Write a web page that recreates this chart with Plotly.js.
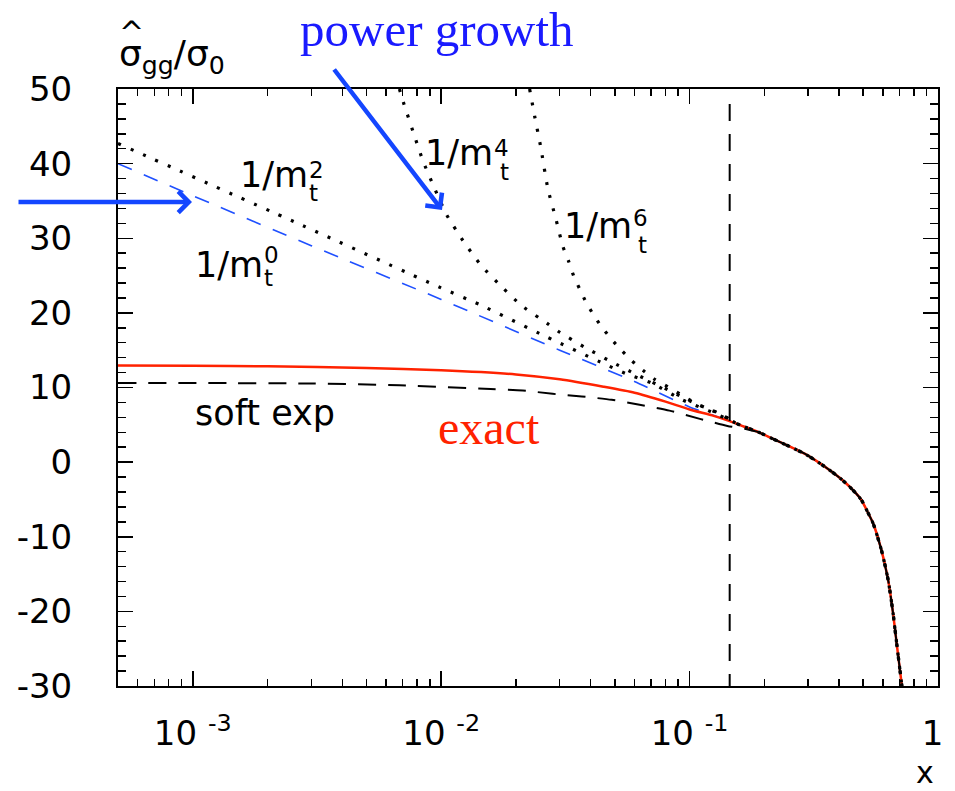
<!DOCTYPE html>
<html><head><meta charset="utf-8">
<script src="https://cdn.plot.ly/plotly-3.0.1.min.js"></script>
<style>html,body{margin:0;padding:0;background:#fff;} #chart{width:955px;height:791px;}</style>
</head><body><div id="chart"></div>
<script>
// ---- data ----
// common tail (all expansions converge onto the exact curve for x > ~0.15)
const tailX = [0.19, 0.217, 0.26, 0.295, 0.35, 0.402, 0.441, 0.49, 0.523, 0.548, 0.592, 0.63, 0.659, 0.684, 0.713, 0.72];
const tailY = [4.0, 3.1, 1.9, 1.0, -0.6, -2.1, -3.3, -5.0, -6.8, -8.2, -11.8, -15.8, -20.2, -24.7, -29.6, -31];

const exactX = [5e-4, 1e-3, 2e-3, 5e-3, 1e-2, 0.02, 0.03, 0.045, 0.06, 0.08, 0.1, 0.125, 0.145, 0.16];
const exactY = [12.95, 12.9, 12.85, 12.6, 12.3, 11.75, 11.1, 10.1, 9.3, 8.1, 7.05, 6.2, 5.5, 4.95];

const softX = [5e-4, 2.7e-3, 6.8e-3, 0.0158, 0.0213, 0.0281, 0.0368, 0.0486, 0.0629, 0.083, 0.11, 0.142, 0.17];
const softY = [10.6, 10.55, 10.3, 9.8, 9.6, 9.15, 8.8, 8.35, 7.7, 6.9, 5.8, 4.85, 4.4];

const m0X = [5e-4, 1e-3, 3e-3, 0.01, 0.03, 0.06, 0.1, 0.145, 0.16];
const m0Y = [40.0, 35.7, 29.0, 21.8, 15.0, 10.8, 7.4, 5.5, 4.95];

const m2X = [5e-4, 2.77e-3, 9.76e-3, 0.0143, 0.0265, 0.0438, 0.056, 0.0702, 0.0927, 0.119, 0.149, 0.16];
const m2Y = [42.7, 31.7, 23.5, 21.1, 16.8, 13.4, 11.8, 10.6, 8.4, 6.9, 5.45, 4.95];

const m4X = [6.79e-3, 7.08e-3, 7.72e-3, 8.44e-3, 9.43e-3, 0.01054, 0.01223, 0.01445, 0.0174, 0.0212, 0.0267, 0.030, 0.0378, 0.0481, 0.0614, 0.0816, 0.1048, 0.1324, 0.16];
const m4Y = [50.0, 48.0, 44.2, 40.4, 36.6, 33.1, 29.7, 26.4, 23.6, 20.9, 18.6, 17.4, 15.4, 13.5, 11.7, 9.7, 7.9, 6.5, 4.95];

const m6X = [0.0227, 0.0238, 0.0251, 0.0269, 0.0289, 0.0309, 0.0326, 0.0341, 0.0361, 0.0384, 0.0411, 0.0443, 0.0484, 0.0531, 0.0585, 0.0649, 0.0723, 0.0818, 0.0918, 0.103, 0.117, 0.132, 0.15, 0.16];
const m6Y = [50.0, 46.3, 42.4, 36.6, 32.7, 28.9, 26.9, 25.0, 23.2, 21.35, 19.7, 18.1, 16.5, 15.0, 13.6, 12.3, 11.1, 10.1, 9.1, 8.1, 7.2, 6.5, 5.4, 4.95];

const cutX = [0.145, 0.145];
const cutY = [48, -30];

const xTickVals = [1e-3, 1e-2, 1e-1, 1];
const xTickText = ['10 <sup>-3</sup>', '10 <sup>-2</sup>', '10 <sup>-1</sup>', '1\u00a0'];
const xMinorVals = [6e-4,7e-4,8e-4,9e-4, 2e-3,3e-3,4e-3,5e-3,6e-3,7e-3,8e-3,9e-3, 0.02,0.03,0.04,0.05,0.06,0.07,0.08,0.09, 0.2,0.3,0.4,0.5,0.6,0.7,0.8,0.9];
const yTickVals = [-30, -20, -10, 0, 10, 20, 30, 40, 50];
const yTickText = ['-30', '-20', '-10', '0', '10', '20', '30', '40', '50'];

// ---- layout helpers (pixel -> paper) ----
const W = 955, H = 791, L = 118, R = 17, T = 89, B = 105;
const PW = W - L - R, PH = H - T - B;
const px = x => (x - L) / PW;
const py = y => (H - B - y) / PH;

const RED = '#ff2200', BLUE = '#1f50ff', ARROW = '#1446ff';
const SANS = 'DejaVu Sans';

const dotted = {color: 'black', width: 3.2, dash: '3px,10.5px', shape: 'spline', smoothing: 0.6};

const traces = [
  {x: m0X.concat(tailX), y: m0Y.concat(tailY), mode: 'lines', name: '1/m_t^0',
   line: {color: BLUE, width: 1.6, dash: '15px,13px', shape: 'spline', smoothing: 0.6}},
  {x: exactX.concat(tailX), y: exactY.concat(tailY), mode: 'lines', name: 'exact',
   line: {color: RED, width: 2.5, shape: 'spline', smoothing: 0.6}},
  {x: softX.concat(tailX), y: softY.concat(tailY), mode: 'lines', name: 'soft exp',
   line: {color: 'black', width: 2, dash: '18px,12px', shape: 'spline', smoothing: 0.6}},
  {x: m2X.concat(tailX), y: m2Y.concat(tailY), mode: 'lines', name: '1/m_t^2', line: dotted},
  {x: m4X.concat(tailX), y: m4Y.concat(tailY), mode: 'lines', name: '1/m_t^4', line: dotted},
  {x: m6X.concat(tailX), y: m6Y.concat(tailY), mode: 'lines', name: '1/m_t^6', line: dotted},
  {x: cutX, y: cutY, mode: 'lines', name: 'cut', line: {color: 'black', width: 2, dash: '17px,13px'}}
];

function txt(text, xp, yp, size, opts) {
  return Object.assign({text: text, x: px(xp), y: py(yp), xref: 'paper', yref: 'paper',
    xanchor: 'left', yanchor: 'middle', showarrow: false,
    font: {family: SANS, size: size, color: 'black'}}, opts || {});
}
function mLabel(power, supLeft, baseline, supC, subLeft, subC) {
  return [
    txt('1/m', supLeft + 2, baseline - 0.35 * 35, 35, {xanchor: 'right'}),
    txt(power, supLeft - 1, supC, 23),
    txt('t', subLeft - 1, subC, 23)
  ];
}

const annotations = [].concat(
  [txt('power growth', 298, 29, 49, {font: {family: 'Liberation Serif', size: 49, color: '#1a1aff'}})],
  [txt('exact', 436, 427, 48, {font: {family: 'Liberation Serif', size: 48, color: RED}})],
  [txt('soft exp', 193, 413, 35)],
  mLabel('2', 308, 187, 170, 308, 193),
  mLabel('0', 263, 277, 255, 263, 278),
  mLabel('4', 493, 165, 148, 499, 172),
  mLabel('6', 632, 238, 218, 637, 245),
  [txt('σ<sub>gg</sub>/σ<sub>0</sub>', 117, 57, 36)],
  [txt('^', 131, 33, 30, {xanchor: 'center'})],
  [txt('x', 925, 772, 30, {xanchor: 'center'})],
  [
    {x: px(192), y: py(202), xref: 'paper', yref: 'paper', text: '', showarrow: true,
     ax: -175, ay: 0, arrowcolor: ARROW, arrowwidth: 4.5, arrowhead: 4, arrowsize: 0.9, standoff: 0},
    {x: px(442), y: py(210), xref: 'paper', yref: 'paper', text: '', showarrow: true,
     ax: -109, ay: -142, arrowcolor: ARROW, arrowwidth: 4.5, arrowhead: 4, arrowsize: 0.9, standoff: 0},
    {x: px(3), y: py(557), xref: 'paper', yref: 'paper', text: '', showarrow: true,
     ax: -40, ay: 0, arrowcolor: RED, arrowwidth: 4, arrowhead: 4, arrowsize: 0.9, standoff: 0}
  ]
);

const axisCommon = {
  showgrid: false, zeroline: false, showline: true, linecolor: 'black', linewidth: 2,
  mirror: 'ticks', ticks: 'inside', ticklen: 15, tickwidth: 1.5, tickcolor: 'black',
  tickfont: {family: SANS, size: 34, color: 'black'}
};

const layout = {
  width: W, height: H,
  margin: {l: L, r: R, t: T, b: B, pad: 0},
  paper_bgcolor: 'white', plot_bgcolor: 'white',
  showlegend: false,
  xaxis: Object.assign({}, axisCommon, {
    type: 'log', range: [Math.log10(5e-4), 0],
    tickmode: 'array', tickvals: xTickVals, ticktext: xTickText,
    ticklabelstandoff: 16,
    minor: {tickmode: 'array', tickvals: xMinorVals, ticks: 'inside', ticklen: 7, tickwidth: 1.5, tickcolor: 'black', showgrid: false}
  }),
  yaxis: Object.assign({}, axisCommon, {
    range: [-30, 50],
    tickmode: 'array', tickvals: yTickVals, ticktext: yTickText,
    ticklabelstandoff: 37,
    minor: {dtick: 2, ticks: 'inside', ticklen: 8, tickwidth: 1.5, tickcolor: 'black', showgrid: false}
  }),
  annotations: annotations
};

Plotly.newPlot('chart', traces, layout, {displayModeBar: false, staticPlot: true});
</script></body></html>
